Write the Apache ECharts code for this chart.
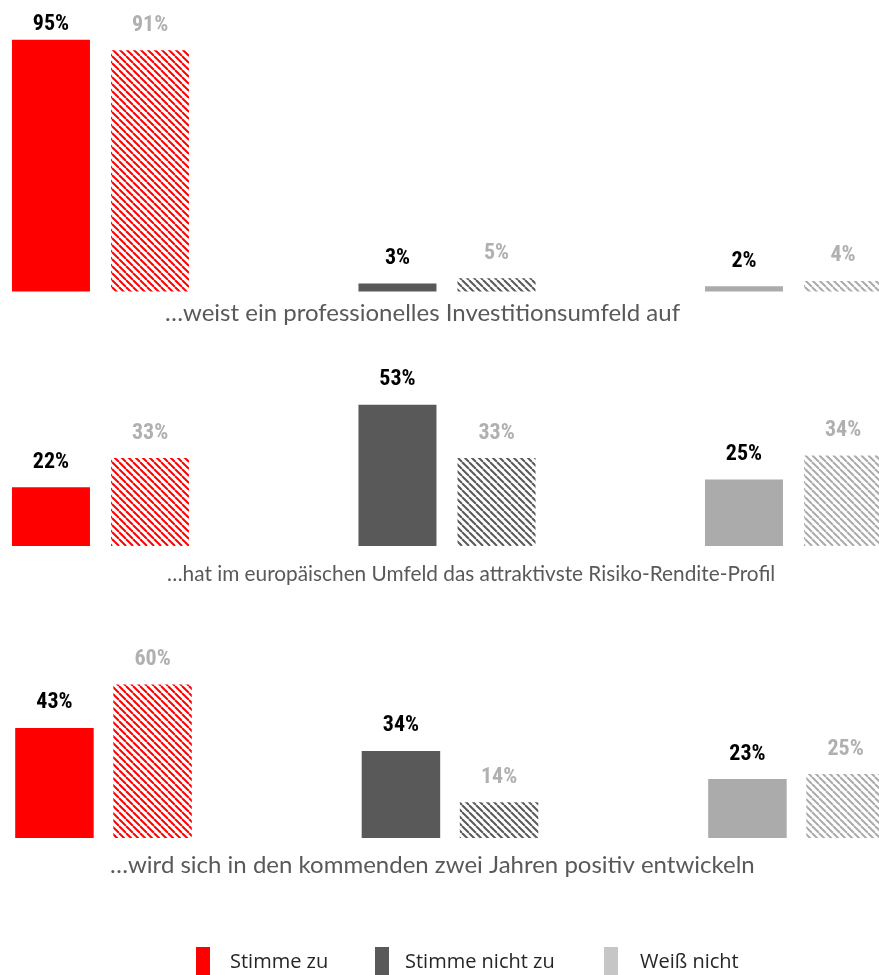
<!DOCTYPE html>
<html>
<head>
<meta charset="utf-8">
<script src="https://cdn.jsdelivr.net/npm/echarts@6/dist/echarts.min.js"></script>
<style>
  html, body { margin: 0; padding: 0; background: #fff; }
  #chart { width: 879px; height: 975px; }
</style>
</head>
<body>
<div id="chart"></div>
<script>
// Answer categories (one colour each)
const categories = ['Stimme zu', 'Stimme nicht zu', 'Weiß nicht'];

// Statements, one panel each
const statements = [
  '…weist ein professionelles Investitionsumfeld auf',
  '…hat im europäischen Umfeld das attraktivste Risiko-Rendite-Profil',
  '…wird sich in den kommenden zwei Jahren positiv entwickeln'
];

// Solid bars (per statement, in category order)
const professionellSolid = [95, 3, 2];
const renditeSolid = [22, 53, 25];
const entwicklungSolid = [43, 34, 23];

// Hatched bars (per statement, in category order)
const professionellHatched = [91, 5, 4];
const renditeHatched = [33, 33, 34];
const entwicklungHatched = [60, 14, 25];

const solidColors = ['#ff0000', '#595959', '#ababab'];
const legendColors = ['#ff0000', '#595959', '#c6c6c6'];

function hatch(color) {
  const s = 7;
  const c = document.createElement('canvas');
  c.width = s; c.height = s;
  const ctx = c.getContext('2d');
  ctx.fillStyle = '#ffffff';
  ctx.fillRect(0, 0, s, s);
  ctx.strokeStyle = color;
  ctx.lineWidth = 2;
  for (let k = -1; k <= 1; k++) {
    ctx.beginPath();
    ctx.moveTo(k * s, 0);
    ctx.lineTo(k * s + s, s);
    ctx.stroke();
  }
  return c;
}
const hatchPatterns = solidColors.map(hatch);

const panels = [
  { solid: professionellSolid, hatched: professionellHatched,
    grid: { left: -72.75, width: 1039.5, top: 26.5, height: 265 },
    barWidth: 78, barGap: '27%', titleX: 165, titleY: 313, titleSize: 24 },
  { solid: renditeSolid, hatched: renditeHatched,
    grid: { left: -72.75, width: 1039.5, top: 279.5, height: 266.5 },
    barWidth: 78, barGap: '27%', titleX: 167, titleY: 574, titleSize: 20.8 },
  { solid: entwicklungSolid, hatched: entwicklungHatched,
    grid: { left: -69.75, width: 1039.5, top: 582, height: 256 },
    barWidth: 78.5, barGap: '25%', titleX: 110, titleY: 865, titleSize: 24 }
];

const labelFont = {
  fontFamily: '"Roboto Condensed", "Liberation Sans Narrow", "Liberation Sans", sans-serif',
  fontWeight: 'bold condensed',
  fontSize: 22
};

const grid = [], xAxis = [], yAxis = [], series = [];
panels.forEach((p, i) => {
  grid.push(Object.assign({ outerBoundsMode: 'none' }, p.grid));
  xAxis.push({
    type: 'category', gridIndex: i, data: categories,
    axisLine: { show: false }, axisTick: { show: false }, axisLabel: { show: false },
    splitLine: { show: false }
  });
  yAxis.push({
    type: 'value', gridIndex: i, min: 0, max: 100,
    axisLine: { show: false }, axisTick: { show: false }, axisLabel: { show: false },
    splitLine: { show: false }
  });
  series.push({
    type: 'bar', xAxisIndex: i, yAxisIndex: i,
    barWidth: p.barWidth, barGap: p.barGap,
    data: p.solid.map((v, j) => {
      const item = { value: v, itemStyle: { color: solidColors[j] } };
      if (v > 90) item.label = { distance: 4 };
      return item;
    }),
    label: Object.assign({
      show: true, position: 'top', distance: 14, color: '#000000',
      formatter: '{c}%'
    }, labelFont)
  });
  series.push({
    type: 'bar', xAxisIndex: i, yAxisIndex: i,
    barWidth: p.barWidth, barGap: p.barGap,
    data: p.hatched.map((v, j) => ({
      value: v,
      itemStyle: { color: { image: hatchPatterns[j], repeat: 'repeat' } }
    })),
    label: Object.assign({
      show: true, position: 'top', distance: 14, color: '#b0b0b0',
      formatter: '{c}%'
    }, labelFont)
  });
});

const graphic = [];
panels.forEach((p, i) => {
  graphic.push({
    type: 'text', x: p.titleX, y: p.titleY,
    style: {
      text: statements[i],
      fill: '#595959',
      font: '400 ' + p.titleSize + 'px "Lato", "Open Sans", sans-serif',
      verticalAlign: 'middle'
    }
  });
});

const legendRectX = [196, 375, 604];
const legendTextX = [230, 405, 640];
categories.forEach((name, i) => {
  graphic.push({
    type: 'rect', shape: { x: legendRectX[i], y: 947, width: 14, height: 28 },
    style: { fill: legendColors[i] }
  });
  graphic.push({
    type: 'text', x: legendTextX[i], y: 962,
    style: {
      text: name, fill: '#262626',
      font: '20px "Open Sans", "Lato", sans-serif',
      verticalAlign: 'middle'
    }
  });
});

const chart = echarts.init(document.getElementById('chart'), null, { renderer: 'canvas' });
chart.setOption({
  animation: false,
  backgroundColor: '#ffffff',
  grid, xAxis, yAxis, series, graphic
});
</script>
</body>
</html>
